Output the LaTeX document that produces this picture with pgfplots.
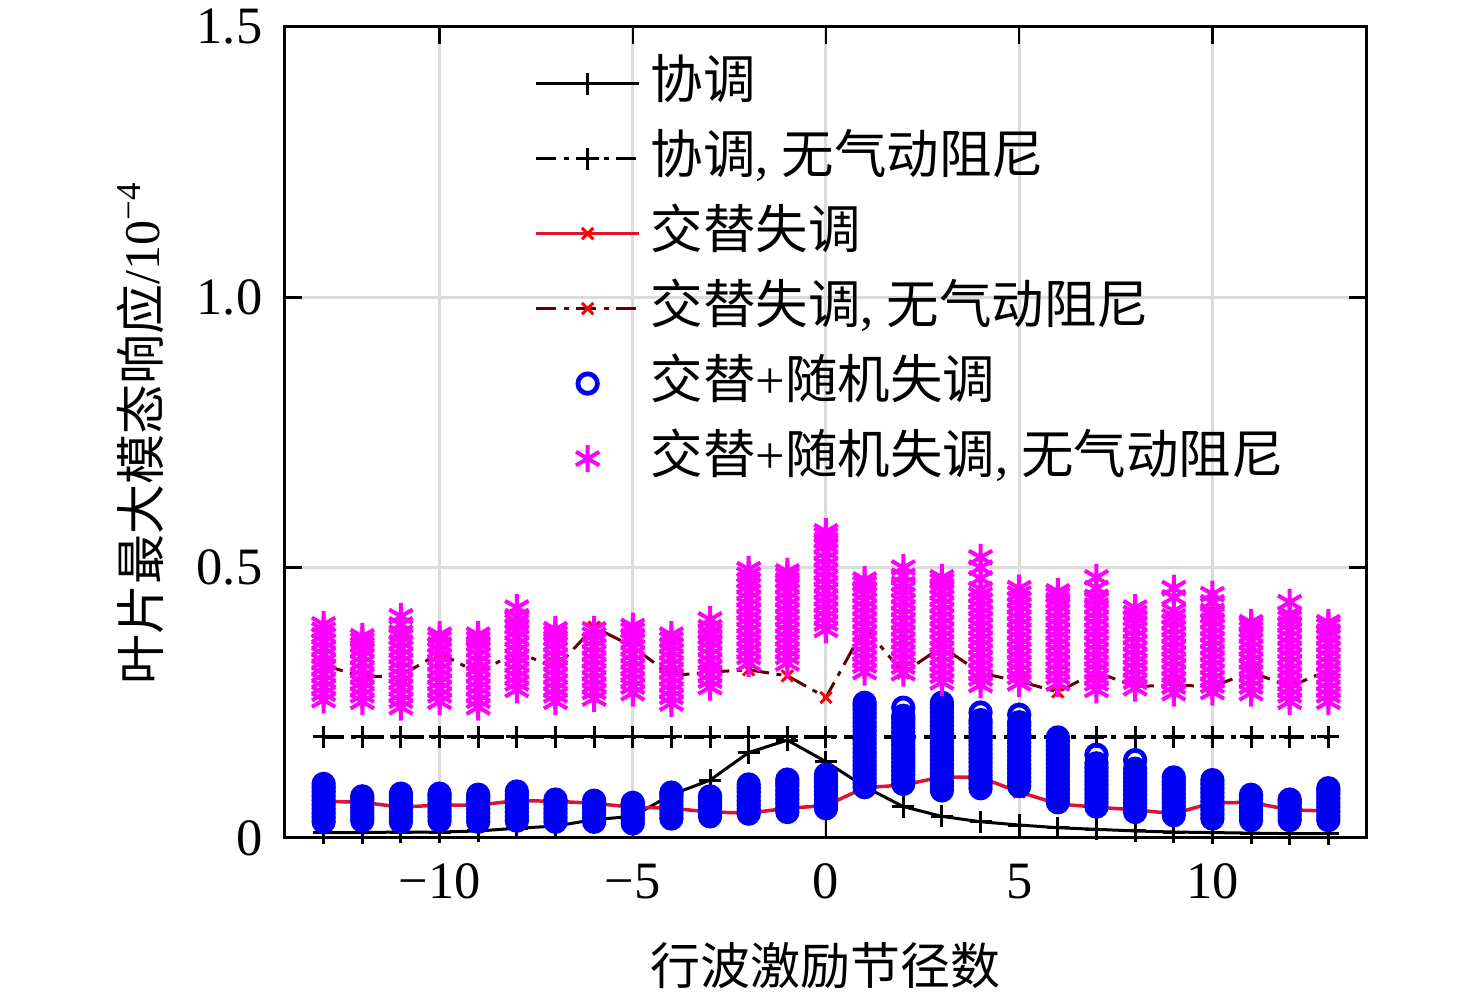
\documentclass[border=0pt]{standalone}
\usepackage{fontspec}
\setmainfont{Liberation Serif}
\newfontfamily\cjk{Noto Sans CJK SC}
\usepackage{pgfplots}
\pgfplotsset{compat=1.18}
\definecolor{mag}{RGB}{255,0,255}
\definecolor{blu}{RGB}{0,0,245}
\definecolor{redl}{RGB}{220,20,50}
\begin{document}
\begin{tikzpicture}
\path[use as bounding box] (-57pt,-32.8pt) rectangle (238.2pt,167.6pt);
\begin{axis}[
  at={(0,0)}, anchor=south west, scale only axis,
  width=216.4pt, height=162.2pt,
  xmin=-14, xmax=14, ymin=0, ymax=1.5,
  xtick={-10,-5,0,5,10}, xticklabels={−10,−5,0,5,10},
  ytick={0,0.5,1,1.5}, yticklabels={0,0.5,1.0,1.5},
  tick align=inside, major tick length=3.5pt,
  tick style={black, line width=0.5pt},
  axis line style={line width=0.6pt},
  grid=major, major grid style={black!14, line width=0.6pt},
  tick label style={font=\fontsize{10.5}{12}\selectfont},
  xticklabel style={yshift=-1.6pt},
  yticklabel style={xshift=-1pt},
  label style={font=\fontsize{10.5}{12}\selectfont},
  xlabel={\cjk 行波激励节径数},
  ylabel={{\cjk 叶片最大模态响应}/10\textsuperscript{−4}},
  every axis x label/.style={at={(axis description cs:0.5,-0.157)}, anchor=center},
  every axis y label/.style={at={(axis description cs:-0.134,0.5)}, rotate=90, anchor=center},
  legend style={draw=none, fill=none, at={(axis description cs:0.216,0.99)}, anchor=north west,
    font=\fontsize{10.5}{12}\selectfont,
    nodes={text height=8pt, text depth=2pt, inner ysep=2.5pt}, row sep=0pt},
  legend cell align=left,
  legend image code/.code={\draw[mark repeat=2,mark phase=2] plot coordinates {(0cm,0cm) (0.36cm,0cm) (0.72cm,0cm)};},
]
% 协调
\addplot[black, line width=0.6pt, mark=+, mark size=2.2pt, mark options={line width=0.6pt}] coordinates {
(-13,0.010)(-12,0.010)(-11,0.011)(-10,0.011)(-9,0.013)(-8,0.018)(-7,0.022)(-6,0.034)(-5,0.040)(-4,0.080)(-3,0.107)(-2,0.158)(-1,0.181)(0,0.141)(1,0.095)(2,0.058)(3,0.040)(4,0.030)(5,0.024)(6,0.019)(7,0.016)(8,0.013)(9,0.011)(10,0.010)(11,0.009)(12,0.008)(13,0.008)};
\addlegendentry{\cjk 协调}
% 协调, 无气动阻尼
\addplot[black, line width=0.7pt, dash pattern=on 4pt off 1.5pt on 1pt off 1.5pt, mark=+, mark size=2.2pt, mark options={solid, line width=0.6pt}] coordinates {
(-13,0.187)(-12,0.187)(-11,0.187)(-10,0.187)(-9,0.187)(-8,0.187)(-7,0.187)(-6,0.187)(-5,0.187)(-4,0.187)(-3,0.187)(-2,0.187)(-1,0.187)(0,0.187)(1,0.187)(2,0.187)(3,0.187)(4,0.187)(5,0.187)(6,0.187)(7,0.187)(8,0.187)(9,0.187)(10,0.187)(11,0.187)(12,0.187)(13,0.187)};
\addlegendentry{{\cjk 协调}, {\cjk 无气动阻尼}}
% 交替失调
\addplot[color=redl, line width=0.7pt, mark=x, mark size=1.6pt, mark options={red, line width=0.6pt}] coordinates {
(-13,0.068)(-12,0.066)(-11,0.057)(-10,0.061)(-9,0.061)(-8,0.069)(-7,0.068)(-6,0.064)(-5,0.057)(-4,0.055)(-3,0.048)(-2,0.046)(-1,0.055)(0,0.060)(1,0.093)(2,0.098)(3,0.113)(4,0.112)(5,0.085)(6,0.063)(7,0.057)(8,0.052)(9,0.045)(10,0.065)(11,0.066)(12,0.052)(13,0.050)};
\addlegendentry{\cjk 交替失调}
% 交替失调, 无气动阻尼
\addplot[color=red!40!black, line width=0.6pt, dash pattern=on 4pt off 1.5pt on 1pt off 1.5pt, mark=x, mark size=1.6pt, mark options={solid, red, line width=0.6pt}] coordinates {
(-13,0.320)(-12,0.298)(-11,0.300)(-10,0.342)(-9,0.305)(-8,0.345)(-7,0.314)(-6,0.390)(-5,0.354)(-4,0.300)(-3,0.307)(-2,0.311)(-1,0.300)(0,0.260)(1,0.390)(2,0.305)(3,0.354)(4,0.305)(5,0.290)(6,0.270)(7,0.307)(8,0.280)(9,0.283)(10,0.280)(11,0.307)(12,0.280)(13,0.310)};
\addlegendentry{{\cjk 交替失调}, {\cjk 无气动阻尼}}
% 交替+随机失调
\addplot[only marks, mark=o, mark size=1.95pt, mark options={blu, line width=0.95pt}] coordinates {
(-13,.030)(-13,.038)(-13,.046)(-13,.054)(-13,.062)(-13,.070)(-13,.078)(-13,.086)(-13,.093)(-13,.100)
(-12,.032)(-12,.040)(-12,.048)(-12,.056)(-12,.064)(-12,.071)(-12,.077)
(-11,.030)(-11,.038)(-11,.046)(-11,.054)(-11,.062)(-11,.070)(-11,.076)(-11,.082)
(-10,.032)(-10,.040)(-10,.048)(-10,.056)(-10,.064)(-10,.072)(-10,.078)(-10,.082)
(-9,.030)(-9,.038)(-9,.046)(-9,.054)(-9,.062)(-9,.070)(-9,.076)(-9,.080)
(-8,.032)(-8,.040)(-8,.048)(-8,.056)(-8,.064)(-8,.072)(-8,.079)(-8,.086)
(-7,.030)(-7,.038)(-7,.046)(-7,.054)(-7,.062)(-7,.068)(-7,.071)
(-6,.030)(-6,.038)(-6,.046)(-6,.054)(-6,.061)(-6,.066)(-6,.069)
(-5,.027)(-5,.035)(-5,.043)(-5,.051)(-5,.058)(-5,.063)(-5,.065)
(-4,.036)(-4,.044)(-4,.052)(-4,.060)(-4,.068)(-4,.075)(-4,.080)(-4,.084)
(-3,.040)(-3,.048)(-3,.056)(-3,.063)(-3,.070)(-3,.075)(-3,.077)
(-2,.045)(-2,.053)(-2,.061)(-2,.069)(-2,.077)(-2,.085)(-2,.092)(-2,.099)
(-1,.048)(-1,.056)(-1,.064)(-1,.072)(-1,.080)(-1,.088)(-1,.096)(-1,.102)(-1,.108)
(0,.055)(0,.063)(0,.071)(0,.079)(0,.087)(0,.095)(0,.103)(0,.110)(0,.117)
(1,.094)(1,.102)(1,.110)(1,.118)(1,.126)(1,.134)(1,.142)(1,.150)(1,.158)(1,.166)(1,.174)(1,.182)(1,.190)(1,.198)(1,.206)(1,.214)(1,.222)(1,.230)(1,.238)(1,.245)(1,.250)
(2,.100)(2,.108)(2,.116)(2,.124)(2,.132)(2,.140)(2,.148)(2,.156)(2,.164)(2,.172)(2,.180)(2,.188)(2,.196)(2,.204)(2,.212)(2,.220)(2,.226)(2,.241)
(3,.088)(3,.096)(3,.104)(3,.112)(3,.120)(3,.128)(3,.136)(3,.144)(3,.152)(3,.160)(3,.168)(3,.176)(3,.184)(3,.192)(3,.200)(3,.208)(3,.216)(3,.224)(3,.232)(3,.240)(3,.246)(3,.250)
(4,.092)(4,.100)(4,.108)(4,.116)(4,.124)(4,.132)(4,.140)(4,.148)(4,.156)(4,.164)(4,.172)(4,.180)(4,.188)(4,.196)(4,.204)(4,.212)(4,.218)(4,.232)
(5,.096)(5,.104)(5,.112)(5,.120)(5,.128)(5,.136)(5,.144)(5,.152)(5,.160)(5,.168)(5,.176)(5,.184)(5,.192)(5,.200)(5,.208)(5,.214)(5,.228)
(6,.066)(6,.074)(6,.082)(6,.090)(6,.098)(6,.106)(6,.114)(6,.122)(6,.130)(6,.138)(6,.146)(6,.154)(6,.162)(6,.170)(6,.178)(6,.186)
(7,.058)(7,.066)(7,.074)(7,.082)(7,.090)(7,.098)(7,.106)(7,.114)(7,.122)(7,.130)(7,.138)(7,.154)
(8,.048)(8,.056)(8,.064)(8,.072)(8,.080)(8,.088)(8,.096)(8,.104)(8,.112)(8,.120)(8,.128)(8,.144)
(9,.042)(9,.050)(9,.058)(9,.066)(9,.074)(9,.082)(9,.090)(9,.098)(9,.104)(9,.112)
(10,.036)(10,.044)(10,.052)(10,.060)(10,.068)(10,.076)(10,.084)(10,.092)(10,.100)(10,.107)
(11,.033)(11,.041)(11,.049)(11,.057)(11,.065)(11,.072)(11,.077)(11,.080)
(12,.033)(12,.041)(12,.049)(12,.056)(12,.063)(12,.068)(12,.071)
(13,.033)(13,.041)(13,.049)(13,.057)(13,.065)(13,.073)(13,.081)(13,.087)(13,.092)};
\addlegendentry{{\cjk 交替}+{\cjk 随机失调}}
% 交替+随机失调, 无气动阻尼
\addplot[only marks, mark=asterisk, mark size=2.7pt, mark options={mag, line width=0.8pt}] coordinates {
(-13,.255)(-13,.267)(-13,.279)(-13,.291)(-13,.303)(-13,.315)(-13,.327)(-13,.339)(-13,.351)(-13,.363)(-13,.375)(-13,.385)(-13,.395)
(-12,.252)(-12,.264)(-12,.276)(-12,.288)(-12,.300)(-12,.312)(-12,.324)(-12,.336)(-12,.348)(-12,.358)(-12,.366)(-12,.373)
(-11,.242)(-11,.254)(-11,.266)(-11,.278)(-11,.290)(-11,.302)(-11,.314)(-11,.326)(-11,.338)(-11,.350)(-11,.362)(-11,.372)(-11,.380)(-11,.395)(-11,.410)
(-10,.252)(-10,.264)(-10,.276)(-10,.288)(-10,.300)(-10,.312)(-10,.324)(-10,.336)(-10,.348)(-10,.358)(-10,.368)(-10,.376)
(-9,.242)(-9,.254)(-9,.266)(-9,.278)(-9,.290)(-9,.302)(-9,.314)(-9,.326)(-9,.338)(-9,.350)(-9,.360)(-9,.368)(-9,.376)
(-8,.274)(-8,.286)(-8,.298)(-8,.310)(-8,.322)(-8,.334)(-8,.346)(-8,.358)(-8,.370)(-8,.382)(-8,.392)(-8,.400)(-8,.410)(-8,.426)
(-7,.252)(-7,.264)(-7,.276)(-7,.288)(-7,.300)(-7,.312)(-7,.324)(-7,.336)(-7,.348)(-7,.360)(-7,.370)(-7,.378)(-7,.386)
(-6,.258)(-6,.270)(-6,.282)(-6,.294)(-6,.306)(-6,.318)(-6,.330)(-6,.342)(-6,.354)(-6,.366)(-6,.376)(-6,.386)
(-5,.268)(-5,.280)(-5,.292)(-5,.304)(-5,.316)(-5,.328)(-5,.340)(-5,.352)(-5,.364)(-5,.374)(-5,.384)(-5,.392)
(-4,.249)(-4,.261)(-4,.273)(-4,.285)(-4,.297)(-4,.309)(-4,.321)(-4,.333)(-4,.345)(-4,.357)(-4,.367)(-4,.376)
(-3,.279)(-3,.291)(-3,.303)(-3,.315)(-3,.327)(-3,.339)(-3,.351)(-3,.363)(-3,.373)(-3,.380)(-3,.390)(-3,.404)
(-2,.323)(-2,.335)(-2,.347)(-2,.359)(-2,.371)(-2,.383)(-2,.395)(-2,.407)(-2,.419)(-2,.431)(-2,.443)(-2,.455)(-2,.467)(-2,.477)(-2,.487)(-2,.497)
(-1,.323)(-1,.335)(-1,.347)(-1,.359)(-1,.371)(-1,.383)(-1,.395)(-1,.407)(-1,.419)(-1,.431)(-1,.443)(-1,.455)(-1,.467)(-1,.477)(-1,.486)(-1,.493)
(0,.385)(0,.397)(0,.409)(0,.421)(0,.433)(0,.445)(0,.457)(0,.469)(0,.481)(0,.493)(0,.505)(0,.517)(0,.529)(0,.541)(0,.551)(0,.560)(0,.567)
(1,.307)(1,.319)(1,.331)(1,.343)(1,.355)(1,.367)(1,.379)(1,.391)(1,.403)(1,.415)(1,.427)(1,.439)(1,.451)(1,.461)(1,.470)(1,.478)
(2,.305)(2,.317)(2,.329)(2,.341)(2,.353)(2,.365)(2,.377)(2,.389)(2,.401)(2,.413)(2,.425)(2,.437)(2,.449)(2,.460)(2,.470)(2,.485)(2,.500)
(3,.288)(3,.300)(3,.312)(3,.324)(3,.336)(3,.348)(3,.360)(3,.372)(3,.384)(3,.396)(3,.408)(3,.420)(3,.432)(3,.444)(3,.456)(3,.466)(3,.475)(3,.482)
(4,.283)(4,.295)(4,.307)(4,.319)(4,.331)(4,.343)(4,.355)(4,.367)(4,.379)(4,.391)(4,.403)(4,.415)(4,.427)(4,.439)(4,.450)(4,.460)(4,.480)(4,.500)(4,.519)
(5,.286)(5,.298)(5,.310)(5,.322)(5,.334)(5,.346)(5,.358)(5,.370)(5,.382)(5,.394)(5,.406)(5,.418)(5,.430)(5,.442)(5,.452)(5,.462)
(6,.286)(6,.298)(6,.310)(6,.322)(6,.334)(6,.346)(6,.358)(6,.370)(6,.382)(6,.394)(6,.406)(6,.418)(6,.430)(6,.440)(6,.449)(6,.456)
(7,.274)(7,.286)(7,.298)(7,.310)(7,.322)(7,.334)(7,.346)(7,.358)(7,.370)(7,.382)(7,.394)(7,.406)(7,.418)(7,.430)(7,.440)(7,.446)(7,.462)(7,.482)
(8,.277)(8,.289)(8,.301)(8,.313)(8,.325)(8,.337)(8,.349)(8,.361)(8,.373)(8,.385)(8,.397)(8,.407)(8,.416)(8,.426)
(9,.268)(9,.280)(9,.292)(9,.304)(9,.316)(9,.328)(9,.340)(9,.352)(9,.364)(9,.376)(9,.388)(9,.400)(9,.410)(9,.420)(9,.445)(9,.462)
(10,.270)(10,.282)(10,.294)(10,.306)(10,.318)(10,.330)(10,.342)(10,.354)(10,.366)(10,.378)(10,.390)(10,.402)(10,.412)(10,.420)(10,.436)(10,.451)
(11,.268)(11,.280)(11,.292)(11,.304)(11,.316)(11,.328)(11,.340)(11,.352)(11,.364)(11,.376)(11,.386)(11,.394)(11,.399)
(12,.252)(12,.264)(12,.276)(12,.288)(12,.300)(12,.312)(12,.324)(12,.336)(12,.348)(12,.360)(12,.372)(12,.384)(12,.396)(12,.406)(12,.414)(12,.436)
(13,.252)(13,.264)(13,.276)(13,.288)(13,.300)(13,.312)(13,.324)(13,.336)(13,.348)(13,.360)(13,.372)(13,.382)(13,.392)(13,.399)};
\addlegendentry{{\cjk 交替}+{\cjk 随机失调}, {\cjk 无气动阻尼}}
\end{axis}
\end{tikzpicture}
\end{document}
